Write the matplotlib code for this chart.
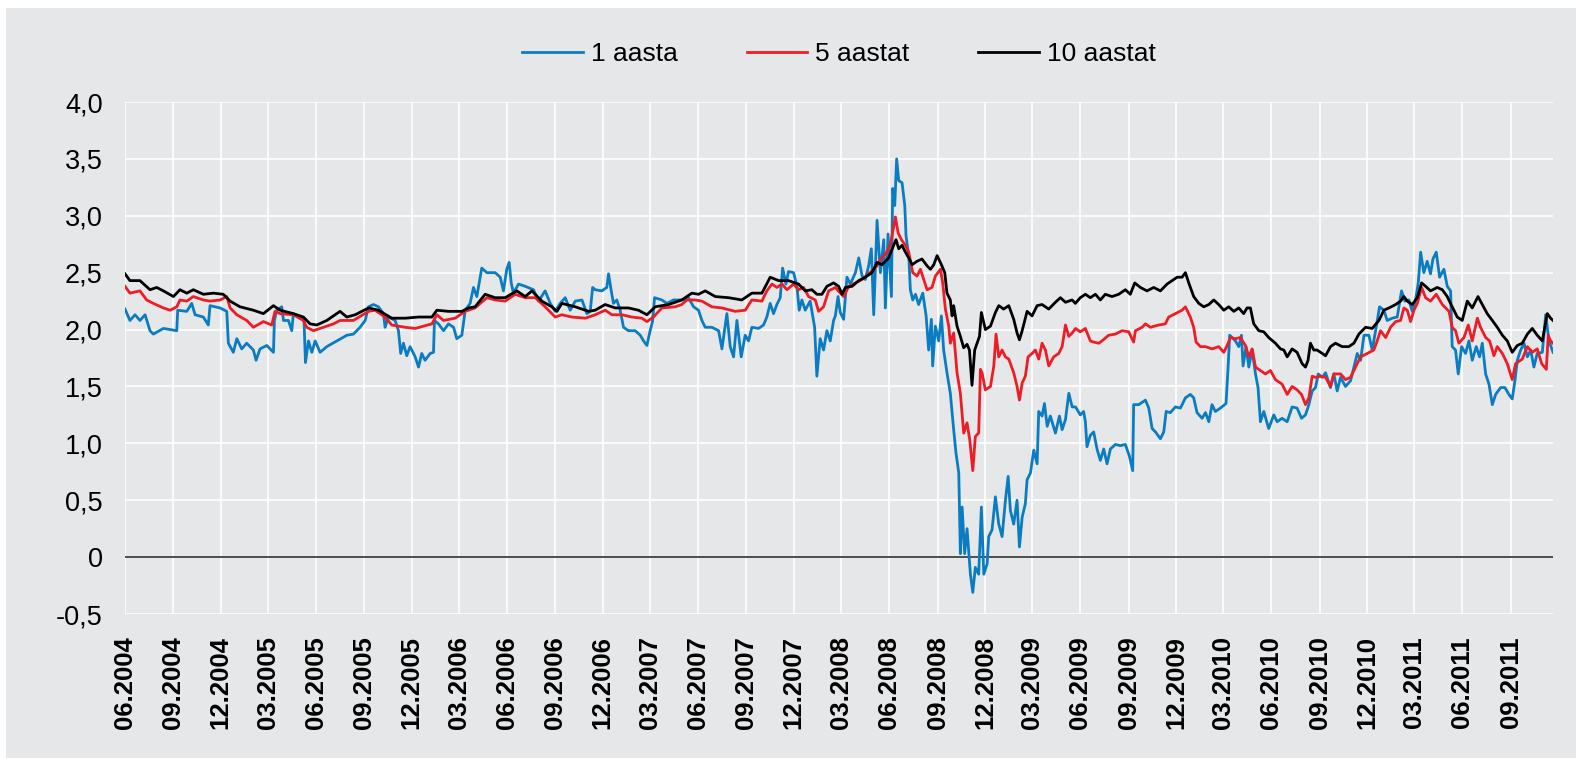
import numpy as np
import pandas as pd
import matplotlib
matplotlib.use('Agg')
import matplotlib.pyplot as plt
from matplotlib.patches import Rectangle
from matplotlib.ticker import FuncFormatter

plt.rcParams['font.family'] = ['Liberation Sans', 'DejaVu Sans']
plt.rcParams['axes.unicode_minus'] = False

# (months since 01.06.2004, yield %)
aasta_1 = [
    (0.00, 2.18), (0.31, 2.08), (0.63, 2.13), (0.94, 2.08), (1.26, 2.13), (1.57, 1.99),
    (1.78, 1.96), (2.41, 2.01), (3.25, 1.99), (3.31, 2.17), (3.88, 2.16), (4.19, 2.23),
    (4.40, 2.13), (4.92, 2.11), (5.23, 2.04), (5.34, 2.21), (5.97, 2.19), (6.39, 2.16),
    (6.49, 1.88), (6.80, 1.80), (7.02, 1.92), (7.33, 1.83), (7.64, 1.88), (8.06, 1.82),
    (8.23, 1.73), (8.48, 1.83), (8.90, 1.86), (9.32, 1.80), (9.38, 2.08), (9.53, 2.17),
    (9.84, 2.20), (9.95, 2.08), (10.26, 2.08), (10.47, 1.99), (10.57, 2.14), (10.99, 2.11),
    (11.24, 2.08), (11.33, 1.71), (11.52, 1.90), (11.73, 1.80), (11.94, 1.90), (12.25, 1.80),
    (12.67, 1.85), (13.30, 1.90), (13.93, 1.95), (14.34, 1.96), (14.76, 2.02), (15.08, 2.08),
    (15.29, 2.20), (15.60, 2.22), (15.91, 2.20), (16.23, 2.14), (16.33, 2.02), (16.54, 2.11),
    (16.96, 2.08), (17.17, 1.99), (17.31, 1.79), (17.48, 1.88), (17.69, 1.77), (17.90, 1.85),
    (18.22, 1.76), (18.43, 1.67), (18.63, 1.79), (18.84, 1.73), (19.16, 1.79), (19.37, 1.80),
    (19.43, 2.08), (19.68, 2.05), (20.00, 1.99), (20.31, 2.05), (20.63, 2.02), (20.83, 1.92),
    (21.15, 1.95), (21.36, 2.17), (21.67, 2.23), (21.88, 2.37), (22.09, 2.29), (22.40, 2.54),
    (22.72, 2.50), (23.24, 2.50), (23.56, 2.46), (23.76, 2.34), (23.97, 2.53), (24.12, 2.59),
    (24.25, 2.41), (24.39, 2.32), (24.71, 2.40), (25.13, 2.38), (25.65, 2.35), (25.97, 2.25),
    (26.38, 2.34), (26.70, 2.23), (27.01, 2.16), (27.32, 2.23), (27.64, 2.28), (27.95, 2.17),
    (28.27, 2.25), (28.69, 2.26), (29.00, 2.14), (29.21, 2.16), (29.36, 2.37), (29.52, 2.35),
    (29.94, 2.34), (30.25, 2.37), (30.36, 2.49), (30.53, 2.34), (30.67, 2.23), (30.88, 2.26),
    (31.09, 2.17), (31.30, 2.02), (31.61, 1.99), (32.03, 1.99), (32.35, 1.95), (32.56, 1.90),
    (32.77, 1.86), (32.97, 1.99), (33.12, 2.07), (33.25, 2.28), (33.71, 2.26), (34.02, 2.23),
    (34.44, 2.26), (34.96, 2.26), (35.38, 2.28), (35.70, 2.20), (36.01, 2.17), (36.22, 2.08),
    (36.43, 2.02), (36.85, 2.02), (37.27, 1.99), (37.48, 1.83), (37.79, 2.14), (38.00, 1.85),
    (38.21, 1.76), (38.42, 2.08), (38.69, 1.76), (38.94, 1.95), (39.15, 1.90), (39.36, 2.02),
    (39.78, 2.01), (40.09, 2.04), (40.30, 2.11), (40.51, 2.23), (40.72, 2.14), (40.93, 2.22),
    (41.14, 2.28), (41.29, 2.54), (41.50, 2.40), (41.66, 2.51), (41.98, 2.50), (42.19, 2.38),
    (42.33, 2.17), (42.50, 2.26), (42.71, 2.17), (43.02, 2.25), (43.30, 2.02), (43.44, 1.59),
    (43.65, 1.92), (43.86, 1.82), (44.07, 1.99), (44.28, 1.90), (44.49, 2.08), (44.60, 2.12),
    (44.77, 2.29), (44.91, 2.15), (45.12, 2.09), (45.33, 2.46), (45.54, 2.40), (45.86, 2.50),
    (46.07, 2.63), (46.28, 2.47), (46.48, 2.44), (46.69, 2.56), (46.86, 2.71), (47.01, 2.13),
    (47.22, 2.96), (47.43, 2.50), (47.64, 2.79), (47.74, 2.19), (47.91, 2.84), (48.12, 2.29),
    (48.20, 3.24), (48.33, 3.09), (48.45, 3.50), (48.58, 3.31), (48.79, 3.29), (48.96, 3.09),
    (49.04, 2.82), (49.21, 2.65), (49.31, 2.35), (49.46, 2.26), (49.63, 2.31), (49.83, 2.22),
    (50.09, 2.32), (50.30, 2.12), (50.46, 1.82), (50.63, 2.09), (50.71, 1.68), (50.88, 2.03),
    (51.09, 1.90), (51.26, 2.12), (51.40, 1.82), (51.61, 1.62), (51.82, 1.44), (52.03, 1.12),
    (52.18, 0.91), (52.35, 0.74), (52.45, 0.03), (52.56, 0.44), (52.72, 0.03), (52.87, 0.25),
    (53.08, -0.15), (53.23, -0.31), (53.39, -0.09), (53.60, -0.15), (53.77, 0.44), (53.92, -0.15),
    (54.13, -0.06), (54.23, 0.18), (54.44, 0.24), (54.65, 0.53), (54.86, 0.29), (55.07, 0.18),
    (55.28, 0.50), (55.45, 0.71), (55.59, 0.41), (55.80, 0.29), (56.01, 0.50), (56.16, 0.09),
    (56.33, 0.35), (56.53, 0.47), (56.64, 0.68), (56.85, 0.74), (57.06, 0.94), (57.27, 0.82),
    (57.37, 1.28), (57.58, 1.24), (57.73, 1.35), (57.90, 1.15), (58.10, 1.24), (58.42, 1.09),
    (58.67, 1.24), (58.84, 1.12), (59.05, 1.21), (59.26, 1.44), (59.47, 1.32), (59.68, 1.32),
    (59.98, 1.25), (60.19, 1.28), (60.30, 1.19), (60.40, 0.97), (60.61, 1.07), (60.82, 1.10),
    (61.03, 0.95), (61.24, 0.85), (61.45, 0.95), (61.66, 0.82), (61.87, 0.95), (62.18, 0.99),
    (62.50, 0.98), (62.81, 0.99), (63.06, 0.89), (63.27, 0.76), (63.33, 1.34), (63.65, 1.34),
    (64.07, 1.38), (64.28, 1.31), (64.49, 1.13), (64.70, 1.10), (65.01, 1.04), (65.22, 1.10),
    (65.37, 1.28), (65.64, 1.27), (65.95, 1.32), (66.27, 1.31), (66.58, 1.40), (66.89, 1.43),
    (67.10, 1.40), (67.31, 1.27), (67.63, 1.22), (67.84, 1.27), (68.05, 1.19), (68.25, 1.34),
    (68.46, 1.28), (68.78, 1.31), (69.13, 1.35), (69.26, 1.67), (69.36, 1.95), (69.51, 1.93),
    (69.72, 1.90), (69.93, 1.85), (70.10, 1.95), (70.20, 1.68), (70.39, 1.85), (70.56, 1.67),
    (70.77, 1.82), (70.98, 1.61), (71.14, 1.49), (71.29, 1.19), (71.50, 1.28), (71.81, 1.13),
    (72.13, 1.25), (72.34, 1.19), (72.65, 1.22), (72.97, 1.19), (73.28, 1.32), (73.59, 1.31),
    (73.87, 1.22), (74.12, 1.25), (74.33, 1.34), (74.54, 1.46), (74.75, 1.49), (74.92, 1.61),
    (75.17, 1.58), (75.38, 1.62), (75.69, 1.49), (75.90, 1.61), (76.11, 1.46), (76.32, 1.58),
    (76.63, 1.50), (76.95, 1.55), (77.16, 1.67), (77.37, 1.79), (77.58, 1.73), (77.79, 1.95),
    (78.10, 1.95), (78.31, 1.82), (78.52, 1.99), (78.77, 2.20), (79.04, 2.17), (79.25, 2.08),
    (79.57, 2.10), (79.88, 2.11), (80.15, 2.34), (80.36, 2.25), (80.61, 2.26), (80.82, 2.16),
    (81.03, 2.26), (81.20, 2.41), (81.35, 2.68), (81.55, 2.50), (81.76, 2.60), (81.97, 2.49),
    (82.12, 2.62), (82.33, 2.68), (82.54, 2.46), (82.81, 2.53), (83.02, 2.38), (83.23, 2.34),
    (83.33, 1.85), (83.54, 1.82), (83.71, 1.61), (83.92, 1.85), (84.17, 1.79), (84.38, 1.90),
    (84.59, 1.73), (84.84, 1.85), (85.05, 1.76), (85.22, 1.88), (85.43, 1.61), (85.64, 1.52),
    (85.85, 1.34), (86.06, 1.43), (86.37, 1.49), (86.64, 1.49), (86.89, 1.43), (87.10, 1.39),
    (87.27, 1.55), (87.42, 1.73), (87.63, 1.82), (87.84, 1.88), (88.05, 1.76), (88.26, 1.82),
    (88.46, 1.67), (88.67, 1.79), (88.99, 1.80), (89.20, 2.13), (89.41, 1.90), (89.66, 1.80),
]

aastat_5 = [
    (0.00, 2.38), (0.31, 2.32), (0.94, 2.34), (1.36, 2.26), (1.78, 2.23), (2.41, 2.19),
    (2.83, 2.17), (3.25, 2.20), (3.45, 2.26), (3.88, 2.25), (4.29, 2.29), (4.92, 2.26),
    (5.34, 2.25), (5.97, 2.26), (6.39, 2.29), (6.60, 2.19), (7.02, 2.13), (7.64, 2.08),
    (8.06, 2.02), (8.69, 2.07), (9.21, 2.04), (9.42, 2.16), (9.74, 2.14), (10.57, 2.13),
    (11.20, 2.08), (11.41, 2.02), (11.83, 1.99), (12.46, 2.02), (13.09, 2.05), (13.50, 2.08),
    (14.34, 2.08), (15.29, 2.16), (15.70, 2.17), (16.33, 2.11), (16.75, 2.04), (17.59, 2.02),
    (18.22, 2.01), (19.27, 2.05), (19.58, 2.13), (20.00, 2.08), (20.73, 2.10), (21.36, 2.16),
    (21.98, 2.19), (22.72, 2.28), (23.24, 2.26), (23.87, 2.25), (24.50, 2.31), (25.13, 2.28),
    (25.76, 2.28), (26.38, 2.20), (27.01, 2.11), (27.43, 2.13), (28.06, 2.11), (28.90, 2.10),
    (29.52, 2.13), (30.15, 2.17), (30.57, 2.13), (31.20, 2.13), (31.82, 2.11), (32.45, 2.10),
    (32.77, 2.07), (33.18, 2.11), (33.71, 2.19), (34.55, 2.20), (34.96, 2.22), (35.28, 2.26),
    (35.80, 2.26), (36.22, 2.25), (36.85, 2.20), (37.48, 2.19), (38.31, 2.16), (38.94, 2.17),
    (39.36, 2.26), (39.99, 2.25), (40.30, 2.34), (40.62, 2.40), (40.93, 2.37), (41.25, 2.40),
    (41.56, 2.35), (41.98, 2.40), (42.29, 2.35), (42.61, 2.37), (42.92, 2.29), (43.34, 2.26),
    (43.55, 2.16), (43.86, 2.20), (44.18, 2.34), (44.60, 2.37), (44.91, 2.32), (45.12, 2.29),
    (45.44, 2.38), (45.86, 2.41), (46.28, 2.44), (46.69, 2.49), (47.01, 2.53), (47.22, 2.56),
    (47.43, 2.62), (47.74, 2.66), (48.05, 2.74), (48.37, 2.99), (48.54, 2.85), (48.75, 2.79),
    (49.00, 2.74), (49.21, 2.68), (49.46, 2.50), (49.73, 2.47), (49.94, 2.53), (50.15, 2.44),
    (50.36, 2.35), (50.67, 2.37), (50.88, 2.47), (51.20, 2.53), (51.34, 2.41), (51.51, 2.18),
    (51.72, 2.03), (51.82, 1.88), (52.03, 1.97), (52.24, 1.62), (52.45, 1.44), (52.66, 1.09),
    (52.87, 1.18), (53.04, 1.03), (53.23, 0.76), (53.39, 1.06), (53.60, 1.09), (53.71, 1.65),
    (53.81, 1.62), (54.02, 1.47), (54.34, 1.50), (54.55, 1.68), (54.69, 1.96), (54.86, 1.76),
    (55.07, 1.82), (55.28, 1.76), (55.49, 1.74), (55.80, 1.62), (56.01, 1.50), (56.16, 1.38),
    (56.33, 1.53), (56.53, 1.59), (56.70, 1.76), (56.95, 1.79), (57.16, 1.82), (57.37, 1.74),
    (57.58, 1.88), (57.79, 1.82), (58.00, 1.68), (58.31, 1.76), (58.63, 1.79), (58.84, 1.85),
    (59.05, 2.04), (59.26, 1.94), (59.47, 1.97), (59.68, 2.01), (59.98, 1.98), (60.30, 2.01),
    (60.61, 1.90), (60.82, 1.89), (61.14, 1.88), (61.34, 1.90), (61.76, 1.95), (62.18, 1.96),
    (62.60, 1.99), (63.02, 1.98), (63.33, 1.89), (63.44, 1.99), (63.86, 2.02), (64.07, 2.05),
    (64.38, 2.02), (64.90, 2.04), (65.32, 2.05), (65.53, 2.11), (65.95, 2.14), (66.37, 2.17),
    (66.58, 2.20), (66.89, 2.11), (67.10, 2.02), (67.25, 1.89), (67.52, 1.85), (67.84, 1.85),
    (68.25, 1.83), (68.67, 1.85), (68.99, 1.80), (69.20, 1.86), (69.41, 1.93), (69.72, 1.92),
    (70.03, 1.93), (70.35, 1.86), (70.56, 1.76), (70.77, 1.83), (70.98, 1.67), (71.29, 1.64),
    (71.60, 1.61), (71.92, 1.64), (72.23, 1.56), (72.65, 1.52), (72.97, 1.43), (73.28, 1.50),
    (73.59, 1.47), (73.87, 1.43), (74.12, 1.34), (74.33, 1.40), (74.54, 1.59), (74.75, 1.58),
    (75.06, 1.59), (75.38, 1.58), (75.69, 1.50), (75.90, 1.61), (76.32, 1.61), (76.63, 1.56),
    (76.95, 1.58), (77.26, 1.67), (77.58, 1.76), (77.99, 1.79), (78.41, 1.82), (78.62, 1.90),
    (78.83, 1.99), (79.15, 1.93), (79.46, 2.02), (79.78, 2.07), (80.09, 2.08), (80.30, 2.19),
    (80.51, 2.17), (80.72, 2.07), (80.93, 2.17), (81.14, 2.23), (81.41, 2.37), (81.66, 2.28),
    (81.97, 2.25), (82.33, 2.31), (82.71, 2.22), (83.13, 2.16), (83.33, 2.02), (83.54, 1.99),
    (83.75, 1.88), (84.07, 1.93), (84.34, 2.04), (84.59, 1.90), (84.91, 2.10), (85.11, 2.02),
    (85.43, 1.93), (85.68, 1.90), (85.95, 1.77), (86.16, 1.85), (86.48, 1.79), (86.79, 1.70),
    (87.10, 1.56), (87.31, 1.70), (87.73, 1.74), (88.05, 1.85), (88.36, 1.80), (88.67, 1.83),
    (88.95, 1.70), (89.24, 1.65), (89.36, 1.95), (89.51, 1.90), (89.66, 1.88),
]

aastat_10 = [
    (0.00, 2.49), (0.31, 2.43), (0.94, 2.43), (1.57, 2.35), (1.99, 2.37), (2.41, 2.34),
    (3.04, 2.29), (3.45, 2.35), (3.88, 2.32), (4.29, 2.35), (4.92, 2.31), (5.55, 2.32),
    (6.17, 2.31), (6.60, 2.25), (7.22, 2.20), (8.06, 2.17), (8.69, 2.14), (9.32, 2.21),
    (9.74, 2.17), (10.57, 2.14), (11.20, 2.11), (11.62, 2.05), (12.04, 2.04), (12.67, 2.08),
    (13.50, 2.16), (13.93, 2.11), (14.45, 2.13), (15.29, 2.19), (15.91, 2.17), (16.75, 2.10),
    (17.59, 2.10), (18.43, 2.11), (19.27, 2.11), (19.58, 2.17), (20.31, 2.16), (21.15, 2.16),
    (21.57, 2.19), (21.98, 2.20), (22.61, 2.31), (23.24, 2.28), (23.87, 2.28), (24.60, 2.34),
    (25.13, 2.29), (25.55, 2.34), (26.17, 2.25), (26.80, 2.20), (27.12, 2.16), (27.43, 2.23),
    (28.27, 2.20), (29.11, 2.16), (29.52, 2.17), (30.15, 2.22), (30.78, 2.19), (31.61, 2.19),
    (32.24, 2.17), (32.77, 2.13), (33.29, 2.20), (34.13, 2.22), (34.96, 2.26), (35.59, 2.32),
    (36.01, 2.31), (36.43, 2.34), (37.06, 2.29), (37.90, 2.28), (38.73, 2.26), (39.36, 2.32),
    (39.99, 2.32), (40.51, 2.46), (41.04, 2.43), (41.66, 2.43), (42.29, 2.40), (42.71, 2.34),
    (43.13, 2.35), (43.44, 2.31), (43.76, 2.31), (44.07, 2.38), (44.49, 2.41), (44.81, 2.38),
    (45.02, 2.31), (45.23, 2.37), (45.65, 2.38), (46.07, 2.43), (46.48, 2.46), (46.90, 2.50),
    (47.22, 2.59), (47.53, 2.57), (47.95, 2.63), (48.26, 2.74), (48.41, 2.79), (48.58, 2.71),
    (48.79, 2.74), (49.00, 2.68), (49.21, 2.63), (49.42, 2.57), (49.73, 2.60), (50.04, 2.62),
    (50.36, 2.56), (50.57, 2.53), (50.78, 2.57), (50.99, 2.65), (51.26, 2.57), (51.47, 2.50),
    (51.61, 2.32), (51.82, 2.26), (51.93, 2.12), (52.03, 2.21), (52.24, 2.03), (52.45, 1.94),
    (52.66, 1.84), (52.87, 1.87), (53.02, 1.82), (53.18, 1.51), (53.35, 1.82), (53.50, 1.88),
    (53.65, 1.94), (53.77, 2.15), (54.02, 2.00), (54.34, 2.03), (54.65, 2.15), (54.86, 2.21),
    (55.17, 2.18), (55.49, 2.21), (55.80, 2.09), (56.01, 1.97), (56.16, 1.91), (56.33, 1.99),
    (56.64, 2.16), (56.95, 2.12), (57.27, 2.21), (57.58, 2.22), (58.00, 2.18), (58.42, 2.24),
    (58.73, 2.28), (59.05, 2.24), (59.47, 2.26), (59.67, 2.23), (59.98, 2.28), (60.30, 2.31),
    (60.61, 2.28), (60.93, 2.31), (61.24, 2.26), (61.55, 2.31), (61.97, 2.29), (62.39, 2.31),
    (62.81, 2.35), (63.12, 2.31), (63.40, 2.41), (63.75, 2.37), (64.17, 2.34), (64.59, 2.37),
    (65.01, 2.34), (65.43, 2.40), (65.74, 2.43), (66.06, 2.46), (66.37, 2.46), (66.58, 2.50),
    (66.79, 2.41), (67.10, 2.29), (67.42, 2.23), (67.73, 2.20), (68.05, 2.22), (68.36, 2.26),
    (68.67, 2.22), (68.99, 2.17), (69.30, 2.20), (69.62, 2.16), (69.93, 2.19), (70.24, 2.14),
    (70.45, 2.19), (70.66, 2.19), (70.87, 2.05), (71.19, 1.99), (71.50, 1.98), (71.81, 1.93),
    (72.23, 1.88), (72.55, 1.83), (72.76, 1.82), (72.97, 1.76), (73.28, 1.83), (73.59, 1.80),
    (73.91, 1.70), (74.12, 1.67), (74.28, 1.73), (74.43, 1.88), (74.64, 1.82), (74.85, 1.82),
    (75.06, 1.80), (75.38, 1.77), (75.69, 1.85), (76.00, 1.88), (76.42, 1.85), (76.84, 1.85),
    (77.16, 1.88), (77.47, 1.96), (77.89, 2.02), (78.31, 2.01), (78.73, 2.08), (79.04, 2.17),
    (79.36, 2.19), (79.78, 2.22), (80.09, 2.25), (80.30, 2.29), (80.51, 2.25), (80.82, 2.22),
    (81.14, 2.28), (81.41, 2.41), (81.66, 2.38), (81.97, 2.34), (82.39, 2.37), (82.71, 2.35),
    (83.02, 2.29), (83.33, 2.20), (83.65, 2.11), (83.96, 2.08), (84.28, 2.25), (84.59, 2.19),
    (84.95, 2.29), (85.22, 2.22), (85.53, 2.14), (85.85, 2.08), (86.16, 2.02), (86.48, 1.95),
    (86.79, 1.90), (87.10, 1.80), (87.42, 1.86), (87.73, 1.88), (88.05, 1.96), (88.36, 2.01),
    (88.67, 1.95), (88.99, 1.90), (89.30, 2.14), (89.51, 2.10), (89.66, 2.08),
]

series_names = ['1 aasta', '5 aastat', '10 aastat']
series_colors = ['#0a7cc1', '#ee1c25', '#000000']
start = pd.Timestamp('2004-06-01')
quarter_ticks = pd.date_range('2004-06-01', '2011-09-01', freq='3MS')
tick_labels = [d.strftime('%m.%Y') for d in quarter_ticks]


def to_dates(pairs):
    months = np.array([p[0] for p in pairs])
    vals = np.array([p[1] for p in pairs])
    return start + pd.to_timedelta(months * 30.4375, unit='D'), vals


bg = '#e6e7e9'
fig = plt.figure(figsize=(15.76, 7.6), dpi=100, facecolor='white')
fig.add_artist(Rectangle((6 / 1576, 2 / 760), 1 - 6 / 1576, 750 / 760,
                         transform=fig.transFigure, facecolor=bg, edgecolor='none', zorder=0))

ax = fig.add_axes([125 / 1576, 1 - 614 / 760, 1428 / 1576, 512 / 760])
ax.set_facecolor(bg)
for s in ax.spines.values():
    s.set_visible(False)

for pairs, name, col in zip([aasta_1, aastat_5, aastat_10], series_names, series_colors):
    d, v = to_dates(pairs)
    ax.plot(d, v, color=col, lw=2.0, label=name, zorder=3)

ax.axhline(0, color='#404040', lw=1.3, zorder=2)

d_all = to_dates(aasta_1)[0]
ax.set_xlim(d_all.min(), d_all.max())
ax.set_ylim(-0.5, 4.0)
ax.set_yticks(np.arange(-0.5, 4.01, 0.5))
ax.yaxis.set_major_formatter(FuncFormatter(
    lambda v, p: '0' if abs(v) < 1e-9 else f'{v:.1f}'.replace('.', ',')))
ax.set_xticks(quarter_ticks)
ax.set_xticklabels(tick_labels, rotation=90, fontweight='bold')
ax.tick_params(axis='both', length=0, colors='black')
ax.tick_params(axis='y', pad=16, labelsize=19.5)
ax.tick_params(axis='x', pad=16, labelsize=18.5)
ax.grid(True, color='white', lw=1.2, zorder=1)
ax.set_axisbelow(True)

fig.legend(loc='center', bbox_to_anchor=(839 / 1576, 1 - 54 / 760), ncol=3, frameon=False,
           fontsize=19, handlelength=2.3, handletextpad=0.3, columnspacing=2.6)

plt.savefig('out.png', dpi=100, facecolor='white')
